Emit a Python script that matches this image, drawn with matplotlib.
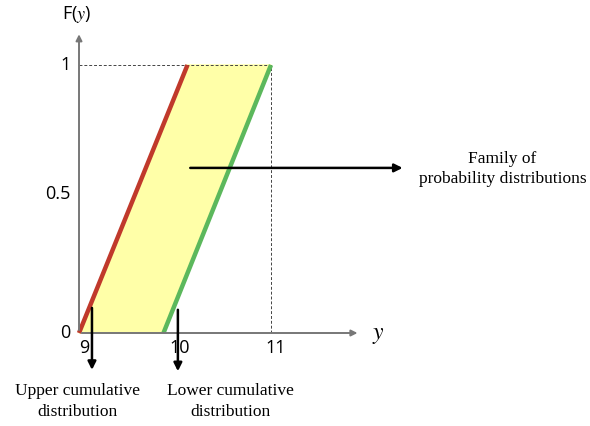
import matplotlib.pyplot as plt

plt.rcParams['mathtext.fontset'] = 'stix'

# data: red = upper CDF, green = lower CDF (drawn as straight ramps)
upper_x = [9.0, 10.13]
lower_x = [9.88, 11.0]
cdf_y = [0.0, 1.0]
x_ticks = [9, 10, 11]
x_tick_labels = ['9', '10', '11']
y_ticks = [0.0, 0.52, 1.0]
y_tick_labels = ['0', '0.5', '1']

fig = plt.figure(figsize=(5.9, 4.26), dpi=100)
ax = fig.add_axes([0, 0, 1, 1])
ax.set_xlim(8.177, 14.323)
ax.set_ylim(-0.347, 1.2425)
ax.axis('off')

tick_font = 'Open Sans'
serif = 'Liberation Serif'

# yellow band between the two curves
ax.fill([upper_x[0], upper_x[1], lower_x[1], lower_x[0]],
        [cdf_y[0], cdf_y[1], cdf_y[1], cdf_y[0]],
        color='#ffffa8', zorder=1)
ax.plot(upper_x, cdf_y, color='#c0392b', lw=3.2, solid_capstyle='butt', zorder=3)
ax.plot(lower_x, cdf_y, color='#5cb85c', lw=3.2, solid_capstyle='butt', zorder=3)

# dashed guides
ax.plot([9, 11], [1, 1], ls=(0, (3, 2)), color='#444444', lw=0.7, zorder=2)
ax.plot([11, 11], [0, 1], ls=(0, (3, 2)), color='#444444', lw=0.7, zorder=2)

# axes with arrow heads
ax.annotate('', xy=(9, 1.125), xytext=(9, 0),
            arrowprops=dict(arrowstyle='-|>', color='#777777', lw=1.4, mutation_scale=9))
ax.annotate('', xy=(11.93, 0), xytext=(9, 0),
            arrowprops=dict(arrowstyle='-|>', color='#777777', lw=1.4, mutation_scale=9))

for x, lab in zip(x_ticks, x_tick_labels):
    ax.text(x + 0.05, -0.022, lab, ha='center', va='top', fontsize=13, family=tick_font)
for y, lab in zip(y_ticks, y_tick_labels):
    ax.text(8.91, y, lab, ha='right', va='center', fontsize=13, family=tick_font)

ax.text(8.98, 1.19, r'F($y$)', ha='center', va='center', fontsize=13, family=tick_font)
ax.text(12.05, -0.005, r'$y$', ha='left', va='center', fontsize=17)

# annotation arrows
ax.annotate('', xy=(12.4, 0.616), xytext=(10.13, 0.616),
            arrowprops=dict(arrowstyle='-|>', color='black', lw=1.8, mutation_scale=12))
ax.annotate('', xy=(9.135, -0.148), xytext=(9.135, 0.104),
            arrowprops=dict(arrowstyle='-|>', color='black', lw=1.8, mutation_scale=12))
ax.annotate('', xy=(10.03, -0.153), xytext=(10.03, 0.097),
            arrowprops=dict(arrowstyle='-|>', color='black', lw=1.8, mutation_scale=12))

ax.text(13.41, 0.612, 'Family of\nprobability distributions', ha='center', va='center',
        fontsize=12.5, family=serif, linespacing=1.4)
ax.text(8.985, -0.257, 'Upper cumulative\ndistribution', ha='center', va='center',
        fontsize=12.5, family=serif, linespacing=1.4)
ax.text(10.58, -0.257, 'Lower cumulative\ndistribution', ha='center', va='center',
        fontsize=12.5, family=serif, linespacing=1.4)

fig.savefig('out.png', dpi=100)
